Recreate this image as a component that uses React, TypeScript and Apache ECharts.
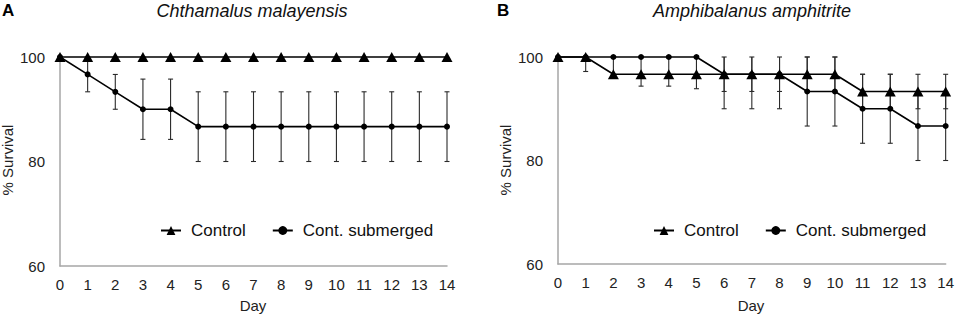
import React, { useEffect, useRef } from "react";
import * as echarts from "echarts";

const days = [0, 1, 2, 3, 4, 5, 6, 7, 8, 9, 10, 11, 12, 13, 14];
const yTicks = [60, 80, 100];
const Y_MIN = 60;
const Y_MAX = 100;

// Panel A: Chthamalus malayensis
const controlA = [100, 100, 100, 100, 100, 100, 100, 100, 100, 100, 100, 100, 100, 100, 100];
const submergedA = [100, 96.67, 93.33, 90, 90, 86.67, 86.67, 86.67, 86.67, 86.67, 86.67, 86.67, 86.67, 86.67, 86.67];
const submergedAErr = [0, 3.33, 3.33, 5.77, 5.77, 6.67, 6.67, 6.67, 6.67, 6.67, 6.67, 6.67, 6.67, 6.67, 6.67];

// Panel B: Amphibalanus amphitrite
const controlB = [100, 100, 96.67, 96.67, 96.67, 96.67, 96.67, 96.67, 96.67, 96.67, 96.67, 93.33, 93.33, 93.33, 93.33];
const controlBErrLow = [0, 2.8, 0, 2.3, 2.3, 2.8, 3.33, 3.33, 3.33, 3.33, 3.33, 3.33, 3.33, 3.33, 3.33];
const controlBErrHigh = [0, 0, 3.33, 3.33, 3.33, 3.33, 3.33, 3.33, 3.33, 3.33, 3.33, 3.33, 3.33, 3.33, 3.33];
const submergedB = [100, 100, 100, 100, 100, 100, 96.67, 96.67, 96.67, 93.33, 93.33, 90, 90, 86.67, 86.67];
const submergedBErr = [0, 0, 0, 0, 0, 0, 6.67, 6.67, 6.67, 6.67, 6.67, 6.67, 6.67, 6.67, 6.67];

const FONT = "'Liberation Sans', Arial, sans-serif";

function pairs(vals: number[]) {
  return days.map((d, i) => [d, vals[i]]);
}
function errData(vals: number[], lo: number[], hi: number[]) {
  return days.map((d, i) => [d, vals[i], lo[i], hi[i]]);
}

function errRender(params: any, api: any) {
  const x = api.value(0);
  const y = api.value(1);
  const lo = api.value(2);
  const hi = api.value(3);
  if (!(lo > 0) && !(hi > 0)) return { type: "group", children: [] };
  const topVal = Math.min(y + hi, Y_MAX);
  const botVal = Math.max(y - lo, Y_MIN);
  const pTop = api.coord([x, topVal]);
  const pBot = api.coord([x, botVal]);
  const style = { stroke: "#2a2a2a", lineWidth: 1.1 };
  const cap = 2.5;
  const children: any[] = [
    { type: "line", shape: { x1: pTop[0], y1: pTop[1], x2: pBot[0], y2: pBot[1] }, style },
  ];
  if (hi > 0 && y + hi <= Y_MAX + 0.01) {
    children.push({ type: "line", shape: { x1: pTop[0] - cap, y1: pTop[1], x2: pTop[0] + cap, y2: pTop[1] }, style });
  }
  if (lo > 0) {
    children.push({ type: "line", shape: { x1: pBot[0] - cap, y1: pBot[1], x2: pBot[0] + cap, y2: pBot[1] }, style });
  }
  return { type: "group", children };
}

export default function App() {
  const ref = useRef<HTMLDivElement>(null);
  useEffect(() => {
    if (!ref.current) return;
    const chart = echarts.init(ref.current, null, { renderer: "svg" });
    const axisLine = { show: true, lineStyle: { color: "#a6a6a6", width: 1.5 } };
    const labelStyle = { fontSize: 15, color: "#222", fontFamily: FONT };
    const mkX = (gi: number) => ({
      type: "value",
      gridIndex: gi,
      min: 0,
      max: 14,
      interval: 1,
      axisLine,
      axisTick: { show: false },
      splitLine: { show: false },
      axisLabel: { ...labelStyle, margin: 11 },
    });
    const mkY = (gi: number) => ({
      type: "value",
      gridIndex: gi,
      min: Y_MIN,
      max: Y_MAX,
      interval: 20,
      axisLine,
      axisTick: { show: false },
      splitLine: { show: false },
      axisLabel: { ...labelStyle, margin: 15, formatter: (v: number) => (yTicks.includes(v) ? String(v) : "") },
    });
    const lineSeries = (name: string, gi: number, vals: number[], symbol: string, size: any) => ({
      type: "line",
      name,
      xAxisIndex: gi,
      yAxisIndex: gi,
      data: pairs(vals),
      symbol,
      symbolSize: size,
      showAllSymbol: true,
      itemStyle: { color: "#000" },
      lineStyle: { color: "#000", width: 1.6 },
      z: 3,
      clip: false,
    });
    const errSeries = (gi: number, vals: number[], lo: number[], hi: number[]) => ({
      type: "custom",
      name: "err" + gi + vals[14],
      xAxisIndex: gi,
      yAxisIndex: gi,
      data: errData(vals, lo, hi),
      renderItem: errRender,
      z: 1,
      clip: false,
      silent: true,
    });
    const legendBase = {
      orient: "horizontal",
      top: 217,
      itemWidth: 20,
      itemHeight: 11,
      itemGap: 26,
      data: ["Control", "Cont. submerged"],
      textStyle: { fontSize: 17, color: "#111", fontFamily: FONT, padding: [0, 0, 0, 5] },
      selectedMode: false,
    };
    chart.setOption({
      animation: false,
      backgroundColor: "#fff",
      grid: [
        { left: 60, top: 57, width: 387, height: 209 },
        { left: 558, top: 57, width: 388, height: 207 },
      ],
      xAxis: [mkX(0), mkX(1)],
      yAxis: [mkY(0), mkY(1)],
      legend: [
        { ...legendBase, left: 155 },
        { ...legendBase, left: 648 },
      ],
      graphic: [
        { type: "text", left: 2, top: 2, style: { text: "A", font: `bold 17px ${FONT}`, fill: "#000" } },
        { type: "text", left: 497, top: 2, style: { text: "B", font: `bold 17px ${FONT}`, fill: "#000" } },
        { type: "text", x: 252, y: 11, style: { text: "Chthamalus malayensis", font: `italic 18px ${FONT}`, fill: "#111", textAlign: "center", textVerticalAlign: "middle" } },
        { type: "text", x: 752, y: 11, style: { text: "Amphibalanus amphitrite", font: `italic 18px ${FONT}`, fill: "#111", textAlign: "center", textVerticalAlign: "middle" } },
        { type: "text", x: 7, y: 160, rotation: Math.PI / 2, style: { text: "% Survival", font: `15px ${FONT}`, fill: "#222", textAlign: "center", textVerticalAlign: "middle" } },
        { type: "text", x: 505, y: 160, rotation: Math.PI / 2, style: { text: "% Survival", font: `15px ${FONT}`, fill: "#222", textAlign: "center", textVerticalAlign: "middle" } },
        { type: "text", x: 253, y: 305, style: { text: "Day", font: `15px ${FONT}`, fill: "#222", textAlign: "center", textVerticalAlign: "middle" } },
        { type: "text", x: 751, y: 305, style: { text: "Day", font: `15px ${FONT}`, fill: "#222", textAlign: "center", textVerticalAlign: "middle" } },
      ],
      series: [
        errSeries(0, submergedA, submergedAErr, submergedAErr),
        lineSeries("Control", 0, controlA, "triangle", [11, 10]),
        lineSeries("Cont. submerged", 0, submergedA, "circle", 6),
        errSeries(1, controlB, controlBErrLow, controlBErrHigh),
        errSeries(1, submergedB, submergedBErr, submergedBErr),
        lineSeries("Control", 1, controlB, "triangle", [11, 10]),
        lineSeries("Cont. submerged", 1, submergedB, "circle", 6),
      ],
    });
    return () => chart.dispose();
  }, []);
  return <div ref={ref} style={{ position: "absolute", left: 0, top: 0, width: 957, height: 317 }} />;
}
